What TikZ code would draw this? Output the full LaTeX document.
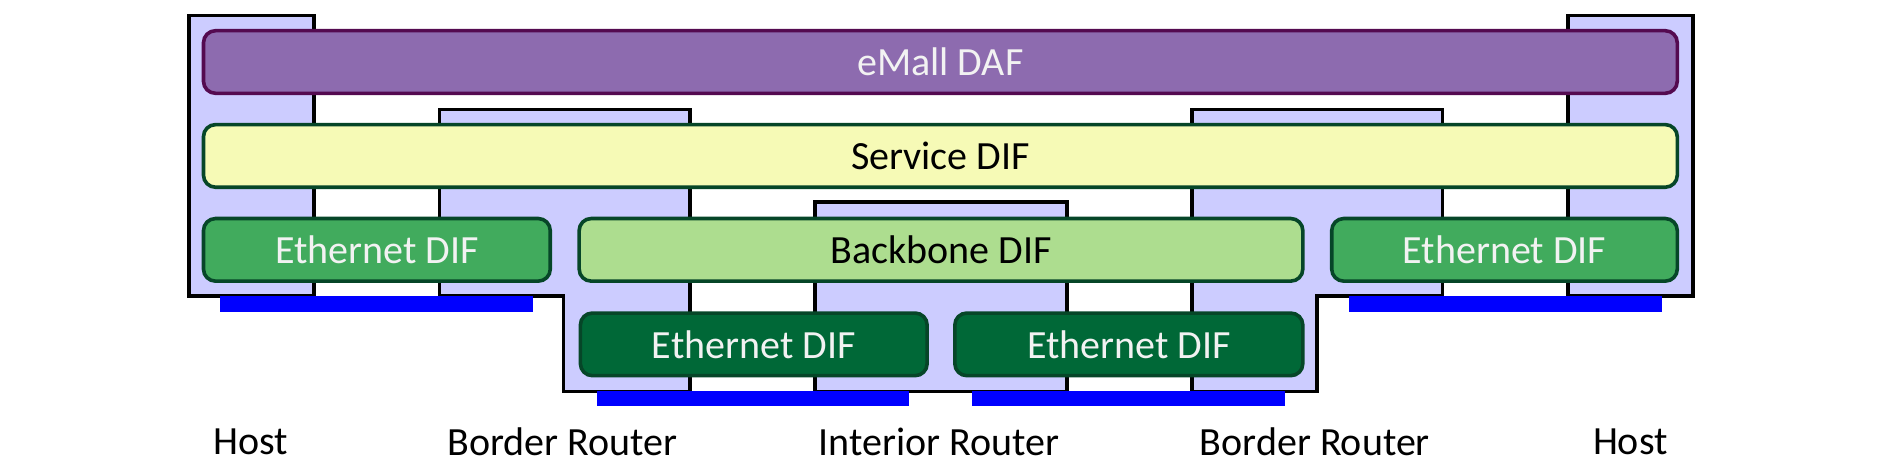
\documentclass[tikz,border=0pt]{standalone}
\usepackage{fontspec}
\setmainfont{Carlito}
\definecolor{routerfill}{RGB}{204,204,255}
\definecolor{dafcol}{RGB}{141,107,175}
\definecolor{dafline}{RGB}{84,10,80}
\definecolor{servicecol}{RGB}{246,250,182}
\definecolor{difline}{RGB}{6,70,40}
\definecolor{ethcol}{RGB}{65,171,93}
\definecolor{backcol}{RGB}{173,221,143}
\definecolor{ethdark}{RGB}{0,104,55}
\definecolor{textwhite}{RGB}{242,242,242}
\definecolor{wirecol}{RGB}{0,0,255}
\def\unitpx{0.602pt}
\begin{document}
\begin{tikzpicture}[x=\unitpx,y=-\unitpx]
	\tikzstyle{every node}+=[font=\fontsize{20}{24}\selectfont]
	\tikzstyle{router}=[fill=routerfill,draw=black,line width=1.8pt]
	\tikzstyle{layer}=[draw=difline,line width=1.8pt,rounded corners=6pt,inner sep=0pt,minimum height=52*\unitpx]
	\tikzstyle{wire}=[fill=wirecol]
	\useasboundingbox (0,0) rectangle (1568,395.3);
	% systems
	\draw [router] (157,13) rectangle (261,246);
	\draw [router] (365,91) -- (573,91) -- (573,325) -- (468,325) -- (468,246) -- (365,246) -- cycle;
	\draw [router] (677,168) rectangle (886,325);
	\draw [router] (990,91) -- (1198,91) -- (1198,246) -- (1094,246) -- (1094,325) -- (990,325) -- cycle;
	\draw [router] (1302,13) rectangle (1406,246);
	% layers
	\node [layer,draw=dafline,fill=dafcol,text=textwhite,minimum width=1224*\unitpx] (daf) at (781,51.5) {eMall DAF};
	\node [layer,fill=servicecol,minimum width=1224*\unitpx] (service) at (781,129.5) {Service DIF};
	\node [layer,fill=ethcol,text=textwhite,minimum width=288*\unitpx] (ethleft) at (313,207.5) {Ethernet DIF};
	\node [layer,fill=backcol,minimum width=601*\unitpx] (backbone) at (781.5,207.5) {Backbone DIF};
	\node [layer,fill=ethcol,text=textwhite,minimum width=287*\unitpx] (ethright) at (1249.5,207.5) {Ethernet DIF};
	\node [layer,fill=ethdark,text=textwhite,minimum width=288*\unitpx] (ethlow1) at (626,286) {Ethernet DIF};
	\node [layer,fill=ethdark,text=textwhite,minimum width=289*\unitpx] (ethlow2) at (937.5,286) {Ethernet DIF};
	% links
	\fill [wire] (183,246) rectangle (443,259);
	\fill [wire] (496,325) rectangle (755,337);
	\fill [wire] (807,325) rectangle (1067,337);
	\fill [wire] (1120,246) rectangle (1380,259);
	% names
	\node (hostleft) at (208,367) {Host};
	\node (borderleft) at (467,367) {Border Router};
	\node (interior) at (780,367) {Interior Router};
	\node (borderright) at (1092,367) {Border Router};
	\node (hostright) at (1354,367) {Host};
\end{tikzpicture}
\end{document}
